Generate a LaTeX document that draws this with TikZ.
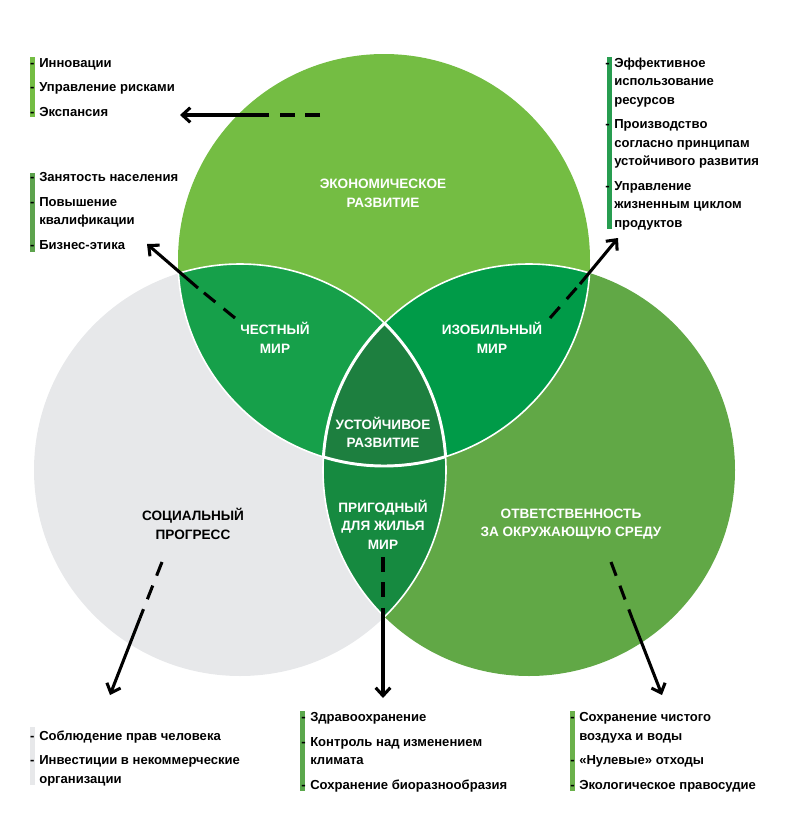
\documentclass[tikz,border=0pt]{standalone}
\usepackage{fontspec}
\setmainfont{Liberation Sans}
\usepackage{xcolor}
\usepackage{tikz}
\usetikzlibrary{calc}
\usetikzlibrary{arrows.meta}

\definecolor{econgreen}{RGB}{116,189,67}
\definecolor{socgrey}{RGB}{231,232,234}
\definecolor{envgreen}{RGB}{97,168,70}
\definecolor{fairgreen}{RGB}{22,160,74}
\definecolor{richgreen}{RGB}{0,155,72}
\definecolor{livegreen}{RGB}{22,138,64}
\definecolor{coregreen}{RGB}{29,127,63}
\definecolor{staffbar}{RGB}{93,163,77}
\definecolor{resbar}{RGB}{40,157,80}
\definecolor{healthbar}{RGB}{91,168,76}
\definecolor{airbar}{RGB}{107,177,75}

\tikzset{
	lbl/.style={align=center,inner sep=0pt,text=white,font=\fontsize{10.2}{13.9}\selectfont\bfseries},
	item/.style={anchor=base west,inner sep=0pt,font=\fontsize{9.8}{12}\selectfont\bfseries},
	dashpart/.style={line width=2.3pt,dash pattern=on 11pt off 8pt},
	solidpart/.style={line width=2.3pt,-{Straight Barb[length=6pt,width=11pt]}},
	edge/.style={white,line width=1.2pt},
	coreedge/.style={white,line width=2.2pt}
}

\begin{document}
\begin{tikzpicture}[x=0.75pt,y=-0.75pt]
		\useasboundingbox (0,0) rectangle (788,832);
		% three circles
		\coordinate (T) at (384,260);
		\coordinate (L) at (240,470);
		\coordinate (R) at (529,470);
		\fill[econgreen] (T) circle (154.5pt);
		\fill[socgrey] (L) circle (154.5pt);
		\fill[envgreen] (R) circle (154.5pt);
		% overlaps
		\begin{scope}
			\clip (T) circle (154.5pt);
			\fill[fairgreen] (L) circle (154.5pt);
			\fill[richgreen] (R) circle (154.5pt);
		\end{scope}
		\begin{scope}
			\clip (L) circle (154.5pt);
			\fill[livegreen] (R) circle (154.5pt);
		\end{scope}
		\begin{scope}
			\clip (T) circle (154.5pt);
			\clip (L) circle (154.5pt);
			\fill[coregreen] (R) circle (154.5pt);
		\end{scope}
		% white borders
		\begin{scope}
			\clip (T) circle (154.5pt);
			\draw[edge] (L) circle (154.5pt);
			\draw[edge] (R) circle (154.5pt);
		\end{scope}
		\begin{scope}
			\clip (L) circle (154.5pt);
			\draw[edge] (T) circle (154.5pt);
			\draw[edge] (R) circle (154.5pt);
		\end{scope}
		\begin{scope}
			\clip (R) circle (154.5pt);
			\draw[edge] (T) circle (154.5pt);
			\draw[edge] (L) circle (154.5pt);
		\end{scope}
		\begin{scope}
			\clip (T) circle (154.5pt);
			\clip (L) circle (154.5pt);
			\draw[coreedge] (R) circle (154.5pt);
		\end{scope}
		\begin{scope}
			\clip (T) circle (154.5pt);
			\clip (R) circle (154.5pt);
			\draw[coreedge] (L) circle (154.5pt);
		\end{scope}
		\begin{scope}
			\clip (L) circle (154.5pt);
			\clip (R) circle (154.5pt);
			\draw[coreedge] (T) circle (154.5pt);
		\end{scope}
		% circle labels
		\node[lbl] (econ) at (383,193.5) {ЭКОНОМИЧЕСКОЕ\\РАЗВИТИЕ};
		\node[lbl] (fair) at (275,338) {ЧЕСТНЫЙ\\МИР};
		\node[lbl] (rich) at (492,338) {ИЗОБИЛЬНЫЙ\\МИР};
		\node[lbl] (core) at (383,432.5) {УСТОЙЧИВОЕ\\РАЗВИТИЕ};
		\node[lbl] (live) at (383,524.5) {ПРИГОДНЫЙ\\ДЛЯ ЖИЛЬЯ\\МИР};
		\node[lbl,text=black] (soc) at (193,524) {СОЦИАЛЬНЫЙ\\ПРОГРЕСС};
		\node[lbl] (env) at (571,524) {ОТВЕТСТВЕННОСТЬ\\ЗА ОКРУЖАЮЩУЮ СРЕДУ};
		% lists
		\fill[econgreen] (30,57) rectangle (35,117);
		\node[item] (econa) at (39,67) {\llap{-\hspace{3.5pt}}Инновации};
		\node[item] (econb) at (39,91.5) {\llap{-\hspace{3.5pt}}Управление рисками};
		\node[item] (econc) at (39,116) {\llap{-\hspace{3.5pt}}Экспансия};
		\fill[staffbar] (30,173) rectangle (35,252);
		\node[item] (faira) at (39,181) {\llap{-\hspace{3.5pt}}Занятость населения};
		\node[item] (fairb) at (39,206) {\llap{-\hspace{3.5pt}}Повышение};
		\node[item] (fairc) at (39,224.5) {квалификации};
		\node[item] (faird) at (39,249) {\llap{-\hspace{3.5pt}}Бизнес-этика};
		\fill[resbar] (607,57) rectangle (612,229);
		\node[item] (richa) at (614,67) {\llap{-\hspace{3.5pt}}Эффективное};
		\node[item] (richb) at (614,85.5) {использование};
		\node[item] (richc) at (614,104) {ресурсов};
		\node[item] (richd) at (614,128.5) {\llap{-\hspace{3.5pt}}Производство};
		\node[item] (riche) at (614,147) {согласно принципам};
		\node[item] (richf) at (614,165.5) {устойчивого развития};
		\node[item] (richg) at (614,190) {\llap{-\hspace{3.5pt}}Управление};
		\node[item] (richh) at (614,208.5) {жизненным циклом};
		\node[item] (richi) at (614,227) {продуктов};
		\fill[socgrey] (30,727) rectangle (35,785);
		\node[item] (soca) at (39,740) {\llap{-\hspace{3.5pt}}Соблюдение прав человека};
		\node[item] (socb) at (39,764.5) {\llap{-\hspace{3.5pt}}Инвестиции в некоммерческие};
		\node[item] (socc) at (39,783) {организации};
		\fill[healthbar] (300,711) rectangle (305,791);
		\node[item] (livea) at (310,721.5) {\llap{-\hspace{3.5pt}}Здравоохранение};
		\node[item] (liveb) at (310,746) {\llap{-\hspace{3.5pt}}Контроль над изменением};
		\node[item] (livec) at (310,764.5) {климата};
		\node[item] (lived) at (310,789) {\llap{-\hspace{3.5pt}}Сохранение биоразнообразия};
		\fill[airbar] (570,711) rectangle (575,791);
		\node[item] (enva) at (579,721.5) {\llap{-\hspace{3.5pt}}Сохранение чистого};
		\node[item] (envb) at (579,740) {воздуха и воды};
		\node[item] (envc) at (579,764.5) {\llap{-\hspace{3.5pt}}«Нулевые» отходы};
		\node[item] (envd) at (579,789) {\llap{-\hspace{3.5pt}}Экологическое правосудие};
		% arrows
		\coordinate (econs) at (320,115);
		\coordinate (econm) at (262,115);
		\coordinate (econt) at (180,115);
		\coordinate (fairs) at (235,318);
		\coordinate (fairm) at (198,288);
		\coordinate (fairt) at (147,244);
		\coordinate (richs) at (550,318);
		\coordinate (richm) at (580,284);
		\coordinate (richt) at (618,238);
		\coordinate (socs) at (162,562);
		\coordinate (socm) at (140,618);
		\coordinate (soct) at (110,695);
		\coordinate (lives) at (383,557);
		\coordinate (livem) at (383,614);
		\coordinate (livet) at (383,698);
		\coordinate (envs) at (611,562);
		\coordinate (envm) at (632,618);
		\coordinate (envt) at (662,695);
		\draw[dashpart] (econs) -- (econm);
		\draw[solidpart] (econm) -- (econt);
		\draw[dashpart] (fairs) -- (fairm);
		\draw[solidpart] (fairm) -- (fairt);
		\draw[dashpart] (richs) -- (richm);
		\draw[solidpart] (richm) -- (richt);
		\draw[dashpart] (socs) -- (socm);
		\draw[solidpart] (socm) -- (soct);
		\draw[dashpart] (lives) -- (livem);
		\draw[solidpart] (livem) -- (livet);
		\draw[dashpart] (envs) -- (envm);
		\draw[solidpart] (envm) -- (envt);
	\end{tikzpicture}
\end{document}
